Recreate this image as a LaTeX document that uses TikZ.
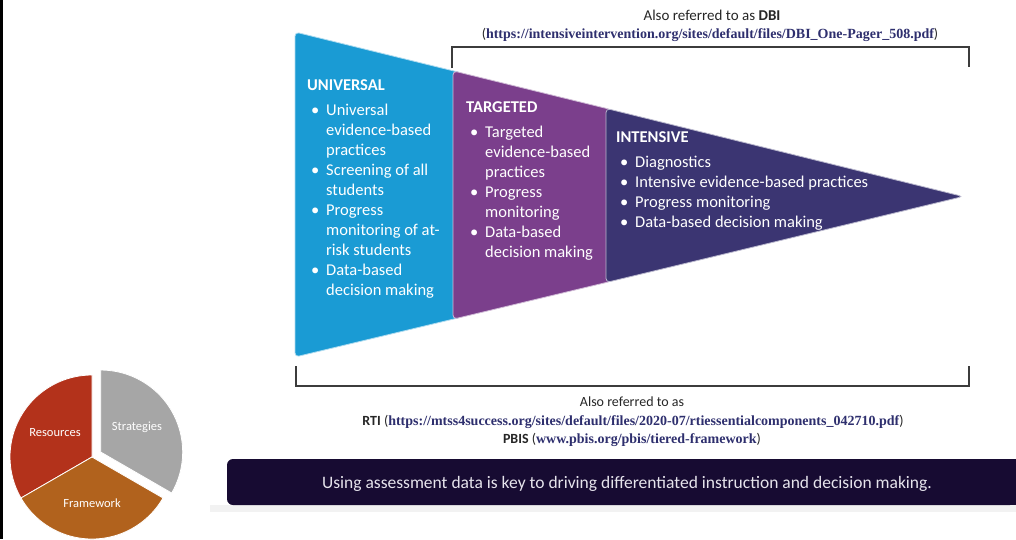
\documentclass[tikz,border=0pt]{standalone}
\usepackage{fontspec}
\usetikzlibrary{calc}
\setmainfont{Carlito}
\newfontfamily\urlfont{Liberation Serif}

\definecolor{universal}{HTML}{1A9BD4}
\definecolor{targeted}{HTML}{7B3F8C}
\definecolor{intensive}{HTML}{3B3572}
\definecolor{bannerbg}{HTML}{170B32}
\definecolor{bannertext}{HTML}{E6E4EC}
\definecolor{urlnavy}{HTML}{2E2F6E}
\definecolor{bracketgray}{HTML}{3C3C3C}
\definecolor{captiongray}{HTML}{262626}
\definecolor{resources}{HTML}{B3321B}
\definecolor{framework}{HTML}{B1621D}
\definecolor{strategies}{HTML}{A6A6A6}

% bullet and hanging indent for the tier lists
\newcommand{\bu}{\makebox[15pt][l]{\textbullet}}
\newcommand{\ind}{\hspace*{15pt}}
\newcommand{\link}[1]{{\urlfont\bfseries\color{urlnavy}#1}}

\tikzset{
  tierfill/.style={fill=#1, draw=white!65!#1, line width=0.8pt, rounded corners=4pt},
  tierhead/.style={text=white, inner sep=0pt, anchor=base west,
    font=\fontsize{16.5}{20}\selectfont\bfseries},
  tierlist/.style={text=white, inner sep=0pt, anchor=base west,
    font=\fontsize{16.5}{20}\selectfont},
  bracket/.style={draw=bracketgray, line width=1.4pt},
  caption/.style={text=captiongray, inner sep=0pt, anchor=base,
    font=\fontsize{14}{16}\selectfont},
  slice/.style={fill=#1, draw=white, line width=0.8pt},
  slicelabel/.style={text=white, inner sep=0pt, font=\fontsize{12.5}{14}\selectfont}
}

\begin{document}
\begin{tikzpicture}[x=1pt,y=-1pt]
\useasboundingbox (0,0) rectangle (1016,539);
\fill[white] (0,0) rectangle (1016,539);
% left frame edge
\fill[black] (0,0) rectangle (3,539);

% ---------- tiered funnel ----------
\filldraw[tierfill=universal] (462,73.0) -- (295,32) -- (295,357) -- (462,317.0) -- cycle;
\filldraw[tierfill=targeted] (612,109.8) -- (453,70.8) -- (453,319.2) -- (612,281.1) -- cycle;
\filldraw[tierfill=intensive] (963,196.5) -- (606,108.4) -- (606,282.5) -- cycle;

% universal tier
\node[tierhead] (u-head) at (307,90) {UNIVERSAL};
\node[tierlist] (u-list) at (311,115) {\begin{tabular}[t]{@{}l@{}}
\bu Universal\\
\ind evidence-based\\
\ind practices\\
\bu Screening of all\\
\ind students\\
\bu Progress\\
\ind monitoring of at-\\
\ind risk students\\
\bu Data-based\\
\ind decision making
\end{tabular}};

% targeted tier
\node[tierhead] (t-head) at (466,112) {TARGETED};
\node[tierlist] (t-list) at (470,137) {\begin{tabular}[t]{@{}l@{}}
\bu Targeted\\
\ind evidence-based\\
\ind practices\\
\bu Progress\\
\ind monitoring\\
\bu Data-based\\
\ind decision making
\end{tabular}};

% intensive tier
\node[tierhead] (i-head) at (616,142) {INTENSIVE};
\node[tierlist] (i-list) at (620,167) {\begin{tabular}[t]{@{}l@{}}
\bu Diagnostics\\
\bu Intensive evidence-based practices\\
\bu Progress monitoring\\
\bu Data-based decision making
\end{tabular}};

% ---------- brackets ----------
\coordinate (dbi-l) at (452,68);
\coordinate (dbi-r) at (969,67);
\draw[bracket] (dbi-l) |- (710,47) -| (dbi-r);
\coordinate (rti-l) at (296,366);
\coordinate (rti-r) at (969,366);
\draw[bracket] (rti-l) |- (632,386) -| (rti-r);

% ---------- captions ----------
\node[caption, font=\fontsize{15}{17}\selectfont] (dbi-title) at (712,20) {Also referred to as \textbf{DBI}};
\node[caption] (dbi-url) at (710,38) {(\link{https://intensiveintervention.org/sites/default/files/DBI\_One-Pager\_508.pdf})};

\node[caption] (rti-title) at (632,406) {Also referred to as};
\node[caption] (rti-url) at (633,425) {\textbf{RTI} (\link{https://mtss4success.org/sites/default/files/2020-07/rtiessentialcomponents\_042710.pdf})};
\node[caption] (pbis-url) at (632,443) {\textbf{PBIS} (\link{www.pbis.org/pbis/tiered-framework})};

% ---------- banner ----------
\fill[black!5] (210,505) rectangle (1016,512);
\fill[bannerbg, rounded corners=6pt] (227,459) rectangle (1016,505);
\fill[bannerbg] (1000,459) rectangle (1016,505);
\node[text=bannertext, inner sep=0pt, anchor=base, font=\fontsize{17.5}{20}\selectfont] (banner) at (627,488)
  {Using assessment data is key to driving differentiated instruction and decision making.};

% ---------- pie ----------
\coordinate (pc) at (92,457);
\filldraw[slice=resources] (pc) -- ++(-90:82) arc[start angle=-90, end angle=-210, radius=82] -- cycle;
\filldraw[slice=framework] (pc) -- ++(-210:82) arc[start angle=-210, end angle=-330, radius=82] -- cycle;
\coordinate (sc) at ($(pc)+(-30:10)$);
\filldraw[slice=strategies] (sc) -- ++(30:82) arc[start angle=30, end angle=-90, radius=82] -- cycle;
\node[slicelabel] (res-label) at (55,433) {Resources};
\node[slicelabel] (str-label) at (137,427) {Strategies};
\node[slicelabel] (frm-label) at (92,503) {Framework};
\end{tikzpicture}
\end{document}
